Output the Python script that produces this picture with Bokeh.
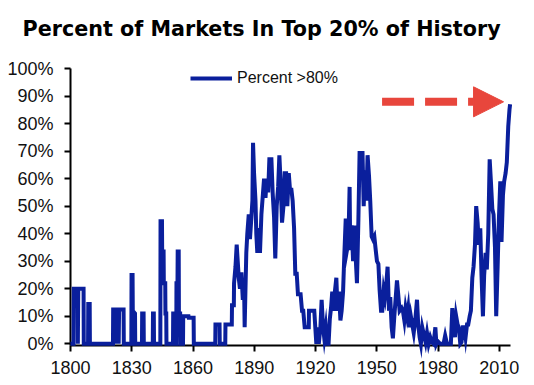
from bokeh.plotting import figure
from bokeh.models import (Range1d, PrintfTickFormatter, FixedTicker, Legend, LegendItem,
                          Arrow, NormalHead)
from bokeh.embed import file_html
from bokeh.resources import INLINE

# ---- data ----
years = [
    1800.0, 1801.5, 1801.6, 1803.5, 1803.6, 1803.8, 1806.4, 1806.5, 1808.6, 1808.7,
    1809.4, 1809.5, 1820.8, 1820.9, 1821.9, 1822.0, 1822.2, 1823.5, 1823.6, 1823.8,
    1826.0, 1826.1, 1829.8, 1829.9, 1830.4, 1830.5, 1831.6, 1831.7, 1835.0, 1835.1,
    1835.8, 1835.9, 1840.3, 1840.4, 1840.8, 1840.9, 1844.0, 1844.1, 1844.8, 1844.9,
    1845.6, 1845.7, 1846.4, 1846.5, 1846.9, 1847.0, 1850.2, 1850.3, 1851.2, 1851.3,
    1851.8, 1851.9, 1852.4, 1852.5, 1853.0, 1853.1, 1853.7, 1853.8, 1855.1, 1855.2,
    1857.8, 1857.9, 1860.3, 1860.4, 1870.9, 1871.0, 1873.0, 1873.1, 1875.8, 1875.9,
    1879.0, 1879.1, 1880.0, 1880.1, 1880.8, 1881.4, 1881.9, 1882.4, 1883.0, 1883.7,
    1884.4, 1885.0, 1885.3, 1885.7, 1886.1, 1886.6, 1887.3, 1887.9, 1888.6, 1889.1,
    1889.4, 1889.9, 1890.6, 1891.0, 1891.5, 1892.2, 1892.8, 1893.5, 1894.1, 1894.8,
    1895.5, 1896.1, 1896.8, 1897.4, 1898.4, 1899.0, 1899.7, 1900.3, 1901.0, 1901.7,
    1902.3, 1903.0, 1903.6, 1904.3, 1904.9, 1905.6, 1906.2, 1906.9, 1907.5, 1908.2,
    1908.8, 1909.5, 1910.1, 1910.8, 1911.4, 1912.7, 1913.4, 1914.0, 1914.7, 1916.7,
    1916.8, 1919.4, 1919.9, 1920.4, 1921.1, 1921.6, 1922.4, 1923.0, 1923.7, 1924.3,
    1925.0, 1925.6, 1926.4, 1927.0, 1927.6, 1928.2, 1928.9, 1929.5, 1930.2, 1930.8,
    1931.5, 1932.2, 1932.8, 1933.5, 1934.1, 1934.8, 1935.4, 1936.1, 1936.7, 1937.0,
    1937.7, 1938.4, 1939.0, 1939.7, 1940.3, 1941.0, 1941.6, 1942.3, 1943.0, 1943.6,
    1944.2, 1944.9, 1945.5, 1946.2, 1946.8, 1947.5, 1948.1, 1948.8, 1949.5, 1950.1,
    1950.8, 1951.4, 1952.1, 1952.7, 1953.4, 1954.0, 1954.7, 1955.3, 1956.0, 1956.6,
    1957.3, 1957.9, 1958.6, 1959.2, 1959.9, 1960.5, 1961.2, 1962.2, 1962.8, 1963.5,
    1964.1, 1964.8, 1965.4, 1966.1, 1966.7, 1967.4, 1968.1, 1968.9, 1969.7, 1970.3,
    1971.0, 1971.6, 1972.3, 1972.9, 1973.9, 1974.6, 1975.4, 1976.2, 1977.0, 1977.8,
    1978.7, 1979.2, 1979.8, 1981.1, 1982.7, 1983.5, 1984.4, 1986.3, 1987.0, 1987.6,
    1988.3, 1988.9, 1989.6, 1990.2, 1990.9, 1991.5, 1992.2, 1992.9, 1993.5, 1994.2,
    1994.8, 1995.5, 1996.1, 1996.8, 1997.4, 1998.1, 1998.7, 1999.4, 2000.0, 2000.7,
    2001.3, 2002.0, 2002.6, 2003.3, 2003.9, 2004.6, 2005.3, 2005.9, 2006.6, 2007.2,
    2007.9, 2008.5, 2009.2, 2009.8, 2010.5, 2011.1, 2011.8, 2012.4, 2013.1, 2013.7,
    2014.4, 2015.0, 2015.3,
]
percent_above_80 = [
    0, 0, 20, 20, 0, 20, 20, 0, 0, 14.5,
    14.5, 0, 0, 12.5, 12.5, 0, 12.5, 12.5, 0, 12.5,
    12.5, 0, 0, 25, 25, 12, 11, 0, 0, 11,
    11, 0, 0, 11, 11, 0, 0, 44.5, 44.5, 33.5,
    33.5, 22, 22, 11, 11, 0, 0, 11, 11, 0,
    0, 22, 22, 33.5, 33.5, 11, 11, 0, 0, 10,
    10, 9.5, 9.5, 0, 0, 7, 7, 0, 0, 7,
    7, 14, 14, 22, 28, 36, 30, 24, 20, 26,
    16, 22, 6, 20, 33, 40, 47, 38, 46, 52,
    73, 62, 52, 40, 33, 42, 33, 47, 53, 60,
    53, 60, 55, 67, 67, 55, 46, 31, 50, 57,
    68.5, 57, 44, 50, 62, 62, 50, 62, 56, 56,
    52, 42, 25.5, 25.5, 18, 18, 12, 12, 6, 6,
    12, 12, 6, 0, 6, 0, 6, 16, 6, 2,
    6, 0, 0, 9, 13, 19, 12, 19, 24, 12,
    19, 8.5, 12, 19, 32, 45.5, 34, 37, 57, 34,
    43, 30, 43, 31, 22, 45, 70, 63, 70, 50,
    63, 52, 68.5, 61, 52, 39, 38, 39, 34, 30,
    29, 19.5, 12, 12, 19.5, 17, 22, 28, 12, 17,
    6, 2, 10, 16, 23, 18, 12, 13, 12, 8.5,
    13, 10, 13, 6, 10, 7, 4, 9, 16, 7,
    2.4, 0, 6, 4, 0.6, 4, 0, 2.4, 0.6, 0,
    6, 0, 1, 0, 0, 3, 0, 0, 13, 7,
    2.4, 10, 7, 6, 0, 0.6, 6, 6, 2.4, 7,
    7, 10, 12, 24, 28, 36, 50, 44, 36, 42,
    25, 10, 25, 33, 27, 40, 67, 59, 49, 47,
    35, 10, 28, 45, 59, 37, 54, 59, 62, 66,
    79, 85, 87,
]
series_label = "Percent >80%"
title_text = "Percent of Markets In Top 20% of History"
x_ticks = [1800, 1830, 1860, 1890, 1920, 1950, 1980, 2010]
y_ticks = [0, 10, 20, 30, 40, 50, 60, 70, 80, 90, 100]

# arrow annotation (decoration)
ARROW_X0, ARROW_X1, ARROW_Y = 1952.6, 2012.1, 87.9

LINE_COLOR = "#0a1f9c"

p = figure(width=534, height=385, output_backend="svg", toolbar_location=None,
           x_range=Range1d(1800, 2015.5), y_range=Range1d(-0.6, 100),
           min_border_left=70, min_border_right=24, min_border_top=68,
           min_border_bottom=40, title=title_text + "\n")

p.title.text_font = "DejaVu Sans"
p.title.text_font_style = "bold"
p.title.text_font_size = "20.7px"
p.title.text_color = "#000000"
p.title.align = "left"
p.title.offset = -48
p.title.vertical_align = "top"
p.title.standoff = 4

p.outline_line_color = None
p.background_fill_color = "white"
p.border_fill_color = "white"
p.xgrid.visible = False
p.ygrid.visible = False

r = p.line(years, percent_above_80, line_color=LINE_COLOR, line_width=4,
           line_join="miter")
r.level = "overlay"

for ax in (p.xaxis[0], p.yaxis[0]):
    ax.axis_line_color = "#000000"
    ax.axis_line_width = 2
    ax.major_tick_line_color = "#000000"
    ax.major_tick_line_width = 2
    ax.major_tick_out = 6
    ax.major_tick_in = 0
    ax.minor_tick_line_color = None
    ax.major_label_text_font = "Liberation Sans"
    ax.major_label_text_color = "#111111"

p.xaxis[0].ticker = FixedTicker(ticks=x_ticks)
p.xaxis[0].major_label_text_font_size = "18px"
p.xaxis[0].major_label_standoff = 9
p.yaxis[0].ticker = FixedTicker(ticks=y_ticks)
p.yaxis[0].formatter = PrintfTickFormatter(format="%d%%")
p.yaxis[0].major_label_text_font_size = "18px"
p.yaxis[0].major_label_standoff = 11

legend = Legend(items=[LegendItem(label=series_label, renderers=[r])],
                location=(120, 257), orientation="horizontal",
                glyph_width=42, glyph_height=20, label_standoff=5,
                padding=0, margin=0, border_line_alpha=0, background_fill_alpha=0,
                label_text_font="Liberation Sans", label_text_font_size="16px",
                label_text_color="#111111")
p.add_layout(legend)

arrow = Arrow(x_start=ARROW_X0, y_start=ARROW_Y, x_end=ARROW_X1, y_end=ARROW_Y,
              line_color="#e8463c", line_width=8, line_dash="32 11", line_cap="butt",
              end=NormalHead(size=30, fill_color="#e8463c", line_color="#e8463c",
                             line_width=1))
p.add_layout(arrow)

open("out.html", "w").write(file_html(p, INLINE))
